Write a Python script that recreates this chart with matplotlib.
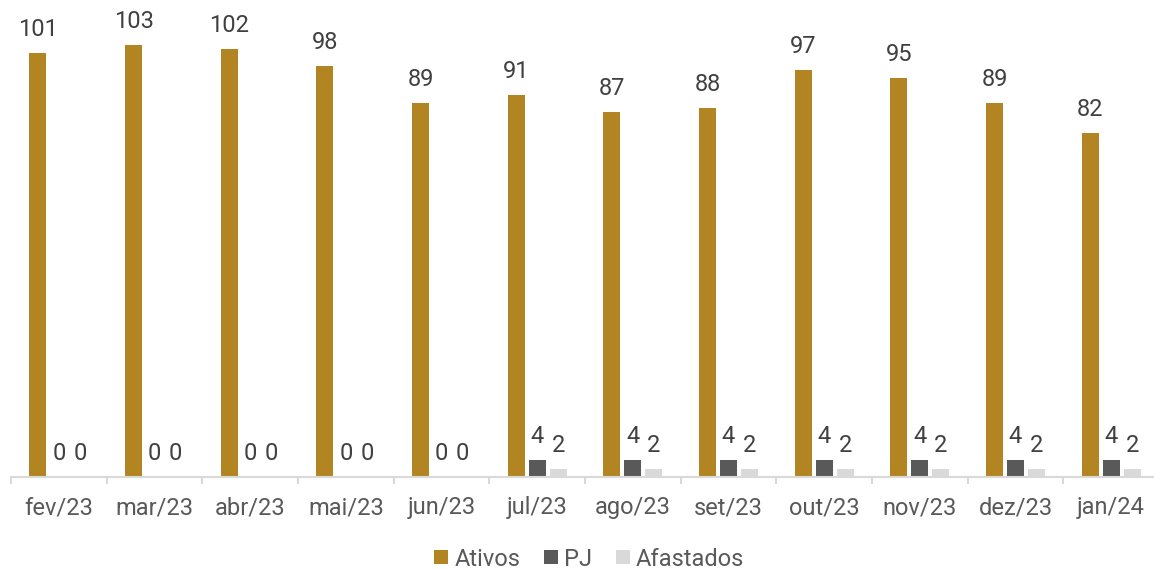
import matplotlib
matplotlib.use("Agg")
import matplotlib.pyplot as plt
import numpy as np
from matplotlib.patches import Patch

plt.rcParams['font.family'] = ['Roboto', 'DejaVu Sans']

categories = ["fev/23", "mar/23", "abr/23", "mai/23", "jun/23", "jul/23",
              "ago/23", "set/23", "out/23", "nov/23", "dez/23", "jan/24"]
ativos = [101, 103, 102, 98, 89, 91, 87, 88, 97, 95, 89, 82]
pj = [0, 0, 0, 0, 0, 4, 4, 4, 4, 4, 4, 4]
afastados = [0, 0, 0, 0, 0, 2, 2, 2, 2, 2, 2, 2]
series_names = ["Ativos", "PJ", "Afastados"]
colors = ["#B38422", "#595959", "#D9D9D9"]

W, H = 1154, 570
fig = plt.figure(figsize=(W / 100, H / 100), dpi=100)
ax_left = 11 / W
ax_w = 1148 / W
ax_bottom = (H - 477) / H
ax_h = 110 * 4.198 / H
ax = fig.add_axes([ax_left, ax_bottom, ax_w, ax_h])

x = np.arange(len(categories))
bw = 17 / 95.7
off = 21 / 95.7
series = [ativos, pj, afastados]
for k, (vals, c) in enumerate(zip(series, colors)):
    pos = x + (k - 1) * off
    ax.bar(pos, vals, width=bw, color=c, zorder=2)
    for xi, v in zip(pos, vals):
        ax.annotate(str(v), (xi, v), xytext=(0, 12.2), textcoords='offset points',
                    ha='center', va='baseline', fontsize=17, color='#404040',
                    annotation_clip=False)

ax.set_xlim(-0.5, 11.5)
ax.set_ylim(0, 110)
for s in ['top', 'right', 'left']:
    ax.spines[s].set_visible(False)
ax.spines['bottom'].set_color('#D9D9D9')
ax.spines['bottom'].set_linewidth(1.5)
ax.set_yticks([])
ax.set_xticks(x)
ax.set_xticklabels(categories, fontsize=17, color='#595959')
ax.tick_params(axis='x', which='major', length=0, pad=14)
ax.set_xticks(np.arange(-0.5, 12, 1), minor=True)
ax.tick_params(axis='x', which='minor', length=5, width=1.5, color='#D9D9D9', direction='out')

handles = [Patch(facecolor=c, edgecolor='none', label=n) for c, n in zip(colors, series_names)]
fig.legend(handles=handles, loc='center', bbox_to_anchor=(589 / W, 1 - 559 / H),
           ncol=3, frameon=False, fontsize=17, handlelength=0.6, handleheight=0.55,
           handletextpad=0.25, columnspacing=1.0, labelcolor='#595959', borderpad=0,
           borderaxespad=0)

fig.savefig("out.png", dpi=100)
